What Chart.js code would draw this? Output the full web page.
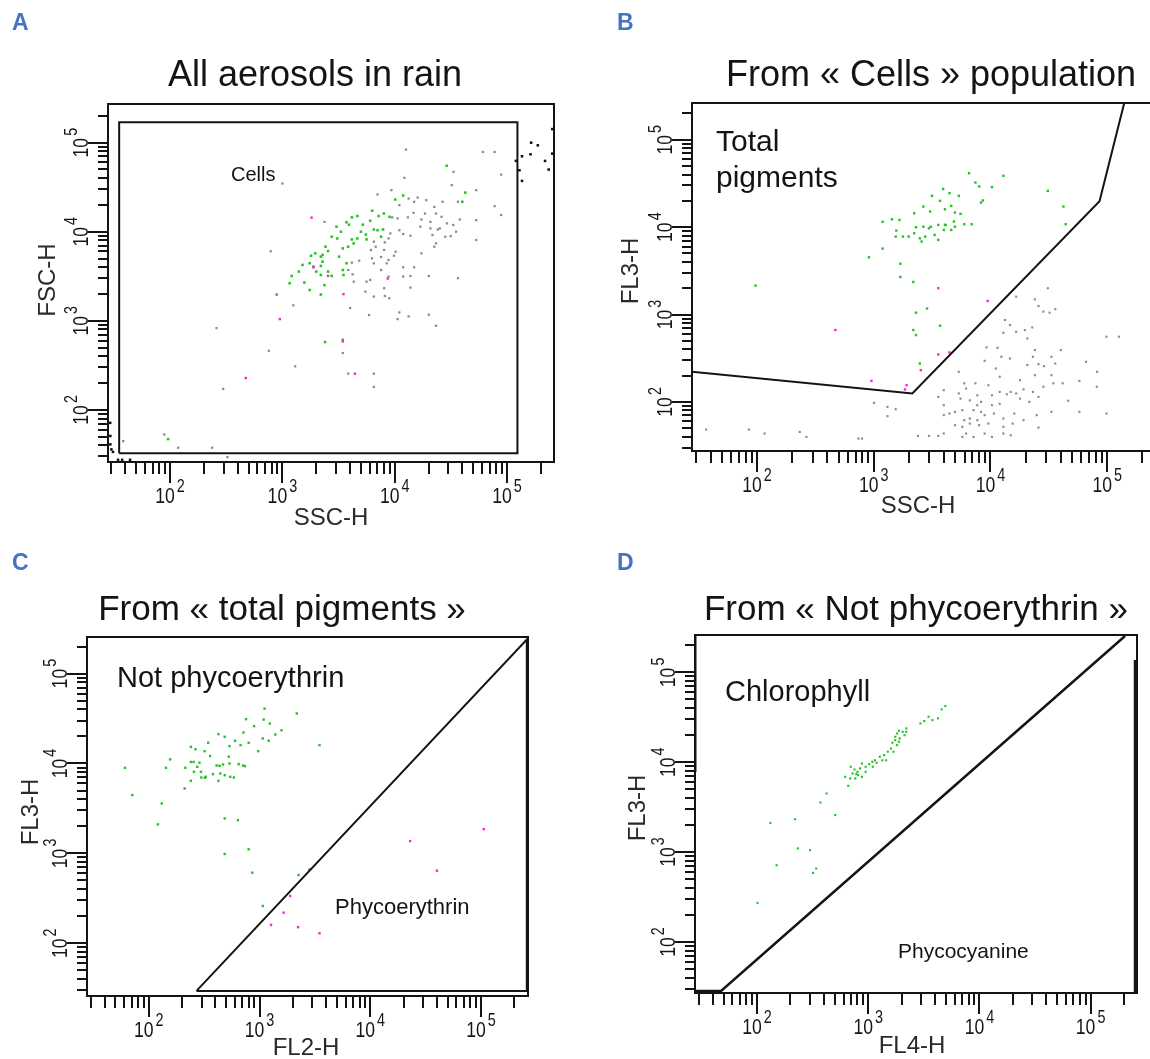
<!DOCTYPE html>
<html><head><meta charset="utf-8">
<script src="https://cdn.jsdelivr.net/npm/chart.js@4.4.1/dist/chart.umd.min.js"></script>
<style>
html,body{margin:0;padding:0;background:#fff;}
body{width:1150px;height:1059px;overflow:hidden;position:relative;font-family:"Liberation Sans",Arial,sans-serif;}
canvas{position:absolute;left:0;top:0;}
.t{position:absolute;white-space:nowrap;line-height:1;color:#141414;font-family:"Liberation Sans",Arial,sans-serif;}
</style></head><body>
<canvas id="cA" width="1170" height="1059"></canvas>
<canvas id="cB" width="1170" height="1059"></canvas>
<canvas id="cC" width="1170" height="1059"></canvas>
<canvas id="cD" width="1170" height="1059"></canvas>
<script>
// ---------------- DATA ----------------
const panelLetters = ['A','B','C','D'];
const panelTitles = ['All aerosols in rain','From « Cells » population','From « total pigments »','From « Not phycoerythrin »'];
const xAxisTitles = ['SSC-H','SSC-H','FL2-H','FL4-H'];
const yAxisTitles = ['FSC-H','FL3-H','FL3-H','FL3-H'];
const majorTickValues = [100, 1000, 10000, 100000];
const majorTickBase = '10';
const majorTickExponents = ['2','3','4','5'];

const aXRange = [28, 262000], aYRange = [26, 271600];
const bXRange = [27.7, 262000], bYRange = [27.4, 263600];
const cXRange = [27.7, 265500], cYRange = [25.9, 255300];
const dXRange = [27.7, 261200], dYRange = [27.0, 260600];

// Panel A : SSC-H vs FSC-H
const aGreen = [[29000,55000],[42500,27500],[40000,21700],[10100,23000],[11900,25500],[7200,15000],[8000,16000],[6300,17200],[4650,15000],[4150,14500],[3720,12800],[3920,12000],[5200,12000],[6050,13300],[3030,11400],[3320,10000],[2750,8800],[3080,8400],[5000,10000],[5530,9300],[7030,10400],[7870,10600],[7570,8800],[4310,7400],[4650,8400],[3850,6800],[3450,6500],[2420,6800],[2550,6080],[2280,5480],[2200,5250],[2280,4610],[1960,5720],[1800,5380],[1750,4430],[2200,4130],[1890,4060],[2000,3570],[2550,3570],[2750,3190],[2200,3270],[1510,4240],[1400,3570],[1210,3190],[1160,2640],[1570,2690],[1750,2220],[2200,1970],[890,1970],[2370,2510],[3450,3720],[3720,4430],[3500,3270],[3200,5250],[4150,8200],[5610,8200],[6520,10600],[2400,577],[3450,612],[96,47],[9000,14700]];
const aGray = [[12600,83600],[61000,78700],[77500,78700],[88700,43800],[33400,47000],[32200,33300],[12200,40200],[53200,29300],[9350,29300],[7030,26200],[13300,23600],[14900,21700],[16000,24200],[19100,22600],[11000,19900],[22500,19000],[26700,21700],[36600,21700],[77500,19400],[88700,15400],[53200,13500],[38000,13700],[18600,16000],[23300,16000],[14700,16300],[13100,14500],[10600,14100],[9500,14500],[17300,13700],[20800,12900],[26100,14700],[29200,12400],[33200,11900],[24200,10600],[20800,10900],[16900,11400],[25200,10900],[21700,9180],[28200,8790],[35200,10000],[31500,8930],[53200,8070],[23300,7400],[22500,6790],[13800,9020],[11900,9420],[11000,10400],[9140,9570],[8810,8410],[8170,7600],[6520,7730],[6770,6790],[6140,6240],[8050,6240],[10200,5970],[9850,5380],[8810,4820],[8480,4420],[7570,5200],[6280,5030],[4830,4730],[4160,4500],[3860,3720],[4220,3330],[4320,2750],[5610,2750],[6050,2880],[6520,4420],[11900,3990],[14900,3990],[20100,3190],[36600,3010],[13800,3190],[11900,3140],[8810,3140],[7570,3720],[8050,2320],[8170,1900],[8940,1790],[5480,2130],[6520,1870],[13800,2360],[17300,5720],[5910,1160],[11000,1240],[10600,1045],[13300,1120],[20100,1170],[23300,880],[4010,1390],[1250,1490],[787,6030],[2370,12900],[757,461],[3450,435],[1300,308],[3860,255],[6520,255],[6520,181],[259,828],[297,172],[118,37.6],[237,37.6],[324,29.5],[38.3,44.6],[88.7,53],[1000,34800]];
const aMagenta = [[1820,14400],[1890,3990],[2550,3190],[8670,2980],[3500,1990],[949,1045],[3450,587],[472,228],[4420,255]];
const aBlack = [[253000,142000],[164000,100000],[188000,93300],[162000,74000],[136000,70300],[120000,62400],[218000,62400],[253000,75300],[129000,49000],[235000,49900],[136000,37200],[29.3,71.5],[29.4,51],[30,36],[31,33.8],[34.4,27.5],[37.4,27.5],[44,27.5],[29.4,41]];
const aGateCells = [[35.2,32.7],[123800,32.7],[123800,169000],[35.2,169000],[35.2,32.7]];

// Panel B : SSC-H vs FL3-H
const bGreen = [[6560,41500],[7430,32400],[8000,29200],[10300,28700],[12900,38700],[31000,26000],[8600,20200],[8300,19100],[42200,17200],[44100,10800],[3930,27400],[4450,24500],[5350,22800],[3150,22800],[3700,20000],[4610,17500],[4070,16000],[2660,17200],[3040,15100],[4960,14700],[5540,14200],[6900,10800],[5960,10800],[4960,10100],[4130,10600],[3570,10600],[3080,10100],[2970,9710],[2660,10100],[2220,14400],[2300,9980],[1660,12100],[1430,12300],[1190,11500],[1560,9140],[1540,7800],[1780,7800],[1990,7800],[2220,8510],[2480,7460],[2570,6840],[2760,7800],[3320,8150],[3570,7140],[3980,9290],[4610,9290],[1190,5680],[908,4520],[1690,3820],[1690,2690],[2180,2360],[2300,1050],[2860,1170],[3700,745],[2180,664],[2300,582],[2480,275],[97,2140],[4070,10600],[4860,11600]];
const bMagenta = [[3570,2000],[9460,1430],[469,664],[3570,349],[4450,368],[2530,231],[955,174],[1910,155],[1850,139]];
const bGray = [[31000,2000],[16600,1600],[24000,1490],[25800,1250],[28400,1080],[32100,1050],[35900,1150],[12900,618],[16600,635],[19700,664],[22800,711],[20700,532],[11500,416],[9250,420],[12400,328],[14700,314],[24000,392],[23100,328],[33300,328],[40100,392],[35900,275],[65900,288],[98600,557],[126000,557],[8910,295],[20700,264],[25800,270],[28800,256],[24000,202],[33300,202],[5350,221],[11100,241],[12000,194],[17900,177],[7430,163],[9600,155],[14900,130],[16600,125],[19200,139],[23100,130],[28400,149],[34600,163],[41500,163],[57800,174],[82000,221],[81500,149],[5960,163],[6180,142],[3980,136],[3570,114],[5540,109],[6650,104],[7710,119],[10300,119],[12000,130],[13800,122],[17900,109],[21500,100],[46300,103],[3980,91.6],[4450,73.6],[4960,76.9],[5740,80.4],[7160,80.4],[8300,76.9],[5960,61.7],[6650,64.4],[7710,61.7],[8910,70.5],[10700,73.6],[12900,64.4],[16000,73.6],[19200,61.7],[24900,70.5],[33300,76.9],[57800,76.9],[98600,73.6],[4960,54.1],[5740,51.8],[6650,56.5],[8000,54.1],[9600,56.5],[12900,51.8],[15500,56.5],[25800,50.8],[6180,43.4],[7160,39.7],[8910,43.4],[10300,39.7],[12900,43.4],[14900,41.5],[2390,40.8],[2970,40.8],[3570,40.8],[3980,43.4],[5740,39.7],[1310,87.7],[1540,82.4],[1005,97.5],[1310,68.5],[36.6,48.2],[85,48.2],[116,43.4],[232,45.3],[265,39.7],[739,38],[794,38],[5350,125],[13300,865],[14700,757],[8300,100],[10300,91.6],[3980,70.5],[7710,91.6],[25800,114],[12000,95]];
const bGateTotal = [[27.7,221],[2140,125],[86000,19800],[140000,263600]];

// Panel C : FL2-H vs FL3-H
const cGreen = [[1110,40800],[2170,36000],[755,31100],[1090,30800],[1240,27800],[893,26000],[1580,23400],[1390,21000],[426,21200],[485,19800],[716,22100],[1070,19000],[1210,17900],[601,17900],[536,15600],[674,16000],[798,17000],[344,17000],[240,15300],[264,14400],[319,13700],[973,13700],[3480,16000],[358,12100],[528,11900],[156,11100],[143,8950],[214,8950],[254,10400],[287,10200],[274,9180],[436,9420],[468,9750],[536,10000],[649,9840],[711,9500],[738,9330],[296,8080],[256,8080],[380,7610],[443,7740],[485,7420],[587,6980],[544,7110],[298,6980],[321,6930],[426,6410],[240,6410],[211,5270],[61,8950],[71,4450],[131,3590],[121,2100],[485,2450],[638,2340],[485,984],[798,1110],[861,610],[2250,574],[2830,664],[1070,260],[410,9500],[327,7110],[240,10400]];
const cMagenta = [[106000,1860],[22900,1370],[40000,641],[1890,336],[1650,219],[1270,160],[2230,151],[3480,129]];
const cGatePE = [[270,29.5],[259000,239000],[259000,29.5],[270,29.5]];

// Panel D : FL4-H vs FL3-H
const dGreen = [[4940,42200],[4570,38700],[4240,30800],[3780,29400],[3490,32100],[3190,28700],[2950,27000],[2200,23800],[2040,21800],[1890,22400],[1820,20900],[1750,19200],[1920,18400],[2120,20000],[1750,17600],[1650,16500],[1820,15500],[1600,14200],[1500,13100],[1690,13100],[1390,12000],[1270,11500],[1150,10500],[1340,10500],[1190,9860],[1090,10100],[1020,9530],[948,8900],[877,9680],[845,8530],[800,7820],[753,8300],[697,8900],[724,7500],[813,7180],[877,6880],[764,6590],[687,6590],[621,6880],[661,5460],[423,4490],[372,3560],[505,2580],[220,2320],[132,2110],[233,1100],[300,1050],[150,714],[341,656],[319,586],[101,272],[1100,8900],[948,7820],[782,7370],[1450,10500],[1890,16900],[2200,21800]];
const dGateDiag = [[27.7,28.4],[47.5,28.4],[204000,254000]];
const dGateRight = [[252000,137000],[252000,27.0]];
const dGateLeft = [[27.7,260600],[27.7,7800]];

// ---------------- RENDERING ----------------
const FONT = '"Liberation Sans", Arial, Helvetica, sans-serif';
const toXY = arr => arr.map(p => ({x: p[0], y: p[1]}));

function drawPow(ctx, cx, baseY, exp) {
  const sx = 0.8;
  ctx.font = '22px ' + FONT;
  const w10 = ctx.measureText(majorTickBase).width * sx;
  ctx.font = '18px ' + FONT;
  const wE = ctx.measureText(exp).width * sx;
  const gap = 2;
  const x0 = cx - (w10 + gap + wE) / 2;
  ctx.textAlign = 'left';
  ctx.textBaseline = 'alphabetic';
  ctx.save(); ctx.translate(x0, baseY); ctx.scale(sx, 1);
  ctx.font = '22px ' + FONT; ctx.fillText(majorTickBase, 0, 0); ctx.restore();
  ctx.save(); ctx.translate(x0 + w10 + gap, baseY - 11); ctx.scale(sx, 1);
  ctx.font = '18px ' + FONT; ctx.fillText(exp, 0, 0); ctx.restore();
}

const facsAxes = {
  id: 'facsAxes',
  afterDraw(chart) {
    const o = chart.options.plugins.facsAxes;
    const ctx = chart.ctx, ca = chart.chartArea;
    const xs = chart.scales.x, ys = chart.scales.y;
    ctx.save();
    ctx.strokeStyle = '#141414';
    ctx.lineWidth = 2;
    ctx.strokeRect(ca.left, ca.top, ca.right - ca.left, ca.bottom - ca.top);
    ctx.beginPath();
    for (let d = 0; d <= 5; d++) {
      for (let k = 1; k <= 9; k++) {
        const v = k * Math.pow(10, d);
        const major = (k === 1);
        if (v >= xs.min && v <= xs.max) {
          const px = Math.round(xs.getPixelForValue(v));
          ctx.moveTo(px, ca.bottom); ctx.lineTo(px, ca.bottom + (major ? 21 : 12));
        }
        if (v >= ys.min && v <= ys.max) {
          const py = Math.round(ys.getPixelForValue(v));
          ctx.moveTo(ca.left, py); ctx.lineTo(ca.left - (major ? 20 : 10), py);
        }
      }
    }
    ctx.stroke();
    ctx.fillStyle = '#161616';
    majorTickValues.forEach((v, i) => {
      if (v >= xs.min && v <= xs.max) {
        drawPow(ctx, xs.getPixelForValue(v), ca.bottom + 41, majorTickExponents[i]);
      }
      if (v >= ys.min && v <= ys.max) {
        ctx.save();
        ctx.translate(ca.left - 20, ys.getPixelForValue(v));
        ctx.rotate(-Math.PI / 2);
        drawPow(ctx, 0, 0, majorTickExponents[i]);
        ctx.restore();
      }
    });
    ctx.fillStyle = '#2a2a2a';
    ctx.font = '24px ' + FONT;
    ctx.textAlign = 'center';
    ctx.textBaseline = 'alphabetic';
    ctx.fillText(o.xTitle, o.xTitlePos[0], o.xTitlePos[1]);
    ctx.save();
    ctx.translate(o.yTitlePos[0], o.yTitlePos[1]);
    ctx.rotate(-Math.PI / 2);
    ctx.fillText(o.yTitle, 0, 0);
    ctx.restore();
    ctx.restore();
  }
};

function pts(arr, color, r) {
  return { data: toXY(arr), backgroundColor: color, borderWidth: 0, pointRadius: r,
           pointStyle: 'rect', pointBorderWidth: 0, showLine: false };
}
function gate(arr, w) {
  return { data: toXY(arr), borderColor: '#141414', borderWidth: w || 2, pointRadius: 0,
           showLine: true, fill: false, tension: 0 };
}

function makeChart(id, area, xr, yr, datasets, axisCfg) {
  const W = 1170, H = 1059;
  return new Chart(document.getElementById(id), {
    type: 'scatter',
    data: { datasets },
    options: {
      responsive: false, animation: false, devicePixelRatio: 1, events: [],
      layout: { padding: { left: area[0], top: area[1], right: W - area[2], bottom: H - area[3] } },
      scales: {
        x: { type: 'logarithmic', min: xr[0], max: xr[1], display: false, bounds: 'data' },
        y: { type: 'logarithmic', min: yr[0], max: yr[1], display: false, bounds: 'data' }
      },
      plugins: { legend: { display: false }, tooltip: { enabled: false }, facsAxes: axisCfg }
    },
    plugins: [facsAxes]
  });
}

makeChart('cA', [108, 104, 554, 462], aXRange, aYRange, [
  gate(aGateCells, 2),
  pts(aMagenta, '#ff22d0', 1.7),
  pts(aGreen, '#22c322', 1.8),
  pts(aGray, '#8a8a8a', 1.6),
  pts(aBlack, '#111111', 1.8)
], { xTitle: xAxisTitles[0], xTitlePos: [331, 525], yTitle: yAxisTitles[0], yTitlePos: [55, 280] });

makeChart('cB', [692, 103, 1156, 451], bXRange, bYRange, [
  gate(bGateTotal, 2),
  pts(bMagenta, '#ff22d0', 1.7),
  pts(bGreen, '#22c322', 1.7),
  pts(bGray, '#8a8a8a', 1.5)
], { xTitle: xAxisTitles[1], xTitlePos: [918, 513], yTitle: yAxisTitles[1], yTitlePos: [638, 271] });

makeChart('cC', [87, 637, 528, 996], cXRange, cYRange, [
  gate(cGatePE, 2),
  pts(cMagenta, '#ff22d0', 1.7),
  pts(cGreen, '#22c322', 1.7)
], { xTitle: xAxisTitles[2], xTitlePos: [306, 1055], yTitle: yAxisTitles[2], yTitlePos: [38, 812] });

makeChart('cD', [695, 635, 1137, 993], dXRange, dYRange, [
  gate(dGateDiag, 2.5),
  gate(dGateRight, 3),
  gate(dGateLeft, 3),
  pts(dGreen, '#22c322', 1.5)
], { xTitle: xAxisTitles[3], xTitlePos: [912, 1053], yTitle: yAxisTitles[3], yTitlePos: [645, 808] });

// ---------------- TEXT OVERLAYS ----------------
function addText(txt, x, baseline, size, opts) {
  opts = opts || {};
  const d = document.createElement('div');
  d.className = 't';
  d.textContent = txt;
  d.style.fontSize = size + 'px';
  d.style.top = (baseline - 0.8465 * size) + 'px';
  d.style.left = x + 'px';
  if (opts.center) d.style.transform = 'translateX(-50%)';
  if (opts.bold) d.style.fontWeight = 'bold';
  if (opts.color) d.style.color = opts.color;
  document.body.appendChild(d);
}
const letterPos = [[12, 30], [617, 30], [12, 570], [617, 570]];
panelLetters.forEach((l, i) => addText(l, letterPos[i][0], letterPos[i][1], 23, { bold: true, color: '#4472C4' }));
const titlePos = [[315, 86], [931, 86], [282, 620], [916, 620]];
const titleSize = [36, 36, 35, 35];
panelTitles.forEach((t, i) => addText(t, titlePos[i][0], titlePos[i][1], titleSize[i], { center: true }));
addText('Cells', 231, 181, 20);
addText('Total', 716, 151, 30);
addText('pigments', 716, 187, 30);
addText('Not phycoerythrin', 117, 688, 29);
addText('Phycoerythrin', 335, 915, 22);
addText('Chlorophyll', 725, 702, 29);
addText('Phycocyanine', 898, 958, 21);
</script>
</body></html>
